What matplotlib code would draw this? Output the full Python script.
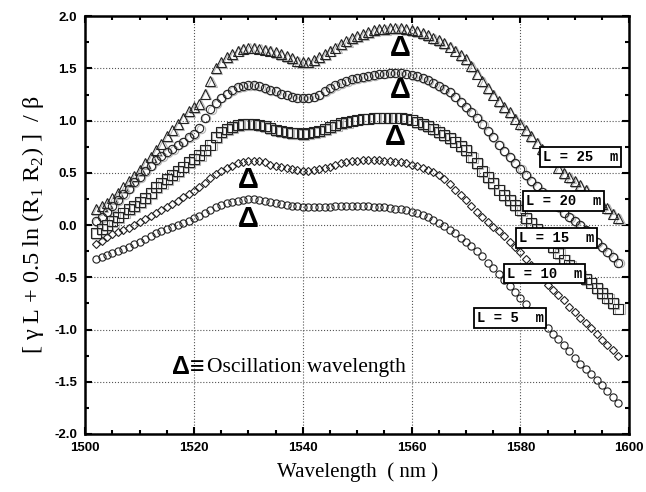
import matplotlib
matplotlib.use("Agg")
import matplotlib.pyplot as plt
from matplotlib.ticker import MultipleLocator, FormatStrFormatter
from matplotlib.transforms import ScaledTranslation

# wavelength grid of the simulated points (nm)
wavelength = list(range(1502, 1599))

# [gamma L + 0.5 ln(R1 R2)] / beta for each fibre length
L25 = [0.15, 0.18, 0.21, 0.26, 0.31, 0.36, 0.42, 0.47, 0.53, 0.59,
       0.65, 0.72, 0.78, 0.85, 0.91, 0.97, 1.03, 1.09, 1.13, 1.16,
       1.26, 1.38, 1.50, 1.56, 1.61, 1.64, 1.67, 1.69, 1.70, 1.70,
       1.69, 1.68, 1.67, 1.66, 1.64, 1.62, 1.60, 1.57, 1.56, 1.56,
       1.58, 1.61, 1.64, 1.67, 1.70, 1.73, 1.76, 1.79, 1.81, 1.83,
       1.85, 1.87, 1.88, 1.88, 1.89, 1.89, 1.89, 1.88, 1.87, 1.86,
       1.84, 1.82, 1.79, 1.77, 1.74, 1.71, 1.67, 1.63, 1.59, 1.52,
       1.45, 1.38, 1.31, 1.25, 1.19, 1.13, 1.08, 1.02, 0.97, 0.91,
       0.85, 0.79, 0.73, 0.67, 0.61, 0.55, 0.50, 0.46, 0.42, 0.38,
       0.34, 0.29, 0.25, 0.20, 0.16, 0.11, 0.07]
L20 = [0.04, 0.08, 0.13, 0.18, 0.24, 0.30, 0.35, 0.41, 0.46, 0.52,
       0.57, 0.62, 0.66, 0.70, 0.73, 0.77, 0.80, 0.84, 0.87, 0.93,
       1.03, 1.11, 1.17, 1.22, 1.26, 1.29, 1.32, 1.33, 1.34, 1.34,
       1.33, 1.31, 1.29, 1.28, 1.26, 1.25, 1.23, 1.22, 1.22, 1.22,
       1.23, 1.25, 1.28, 1.31, 1.34, 1.36, 1.38, 1.40, 1.41, 1.42,
       1.43, 1.44, 1.45, 1.45, 1.46, 1.46, 1.46, 1.45, 1.44, 1.43,
       1.41, 1.39, 1.36, 1.33, 1.30, 1.27, 1.23, 1.18, 1.13, 1.08,
       1.03, 0.97, 0.90, 0.84, 0.77, 0.71, 0.65, 0.59, 0.54, 0.48,
       0.42, 0.37, 0.32, 0.28, 0.22, 0.17, 0.12, 0.08, 0.04, 0.00,
       -0.05, -0.10, -0.16, -0.21, -0.26, -0.31, -0.36]
L15 = [-0.08, -0.04, 0.00, 0.04, 0.08, 0.12, 0.15, 0.18, 0.22, 0.26,
       0.31, 0.36, 0.40, 0.44, 0.48, 0.52, 0.56, 0.60, 0.63, 0.67,
       0.72, 0.77, 0.84, 0.89, 0.92, 0.94, 0.96, 0.97, 0.97, 0.97,
       0.96, 0.95, 0.93, 0.91, 0.90, 0.89, 0.88, 0.88, 0.87, 0.88,
       0.89, 0.90, 0.92, 0.94, 0.96, 0.98, 0.99, 1.00, 1.01, 1.02,
       1.02, 1.03, 1.03, 1.03, 1.03, 1.03, 1.03, 1.02, 1.01, 0.99,
       0.97, 0.95, 0.92, 0.89, 0.86, 0.83, 0.80, 0.76, 0.72, 0.65,
       0.59, 0.52, 0.46, 0.40, 0.34, 0.29, 0.24, 0.19, 0.14, 0.07,
       0.02, -0.04, -0.09, -0.15, -0.21, -0.27, -0.33, -0.38, -0.43, -0.48,
       -0.52, -0.55, -0.60, -0.65, -0.70, -0.75, -0.80]
L10 = [-0.18, -0.15, -0.11, -0.09, -0.07, -0.05, -0.03, 0.00, 0.03, 0.06,
       0.09, 0.12, 0.14, 0.17, 0.20, 0.23, 0.27, 0.30, 0.33, 0.36,
       0.40, 0.45, 0.49, 0.52, 0.55, 0.57, 0.59, 0.60, 0.61, 0.61,
       0.61, 0.60, 0.58, 0.57, 0.56, 0.55, 0.54, 0.53, 0.52, 0.52,
       0.53, 0.54, 0.55, 0.56, 0.58, 0.59, 0.60, 0.61, 0.61, 0.62,
       0.62, 0.62, 0.62, 0.61, 0.61, 0.60, 0.60, 0.59, 0.58, 0.57,
       0.55, 0.53, 0.51, 0.48, 0.44, 0.39, 0.34, 0.29, 0.24, 0.18,
       0.13, 0.08, 0.03, -0.02, -0.06, -0.10, -0.16, -0.21, -0.26, -0.32,
       -0.38, -0.44, -0.50, -0.57, -0.62, -0.67, -0.72, -0.78, -0.83, -0.89,
       -0.94, -0.99, -1.04, -1.10, -1.15, -1.20, -1.25]
L5 = [-0.32, -0.31, -0.29, -0.27, -0.25, -0.23, -0.21, -0.18, -0.16, -0.13,
      -0.10, -0.08, -0.06, -0.04, -0.02, 0.00, 0.02, 0.04, 0.07, 0.09,
      0.12, 0.14, 0.17, 0.19, 0.21, 0.22, 0.23, 0.24, 0.25, 0.25,
      0.24, 0.23, 0.22, 0.21, 0.20, 0.19, 0.18, 0.18, 0.17, 0.17,
      0.17, 0.17, 0.17, 0.17, 0.18, 0.18, 0.18, 0.18, 0.18, 0.18,
      0.18, 0.17, 0.17, 0.17, 0.16, 0.15, 0.15, 0.14, 0.13, 0.12,
      0.10, 0.08, 0.05, 0.02, -0.01, -0.05, -0.08, -0.12, -0.16, -0.20,
      -0.25, -0.30, -0.36, -0.41, -0.47, -0.53, -0.58, -0.64, -0.70, -0.76,
      -0.82, -0.88, -0.94, -0.99, -1.04, -1.09, -1.15, -1.21, -1.27, -1.33,
      -1.38, -1.43, -1.48, -1.53, -1.59, -1.65, -1.70]

labels = ["L = 25  m", "L = 20  m", "L = 15  m", "L = 10  m", "L = 5  m"]
label_pos = [(1591, 0.65), (1588, 0.23), (1586.7, -0.125), (1584.5, -0.465), (1578.1, -0.89)]
# oscillation wavelengths (delta marks)
osc_x = [1558, 1558, 1557, 1530, 1530]
osc_y = [1.70, 1.29, 0.84, 0.43, 0.06]

plt.rcParams['font.family'] = ['Liberation Serif', 'DejaVu Serif']
plt.rcParams['mathtext.fontset'] = 'custom'
plt.rcParams['mathtext.rm'] = 'Liberation Serif'

fig = plt.figure(figsize=(6.46, 4.92), dpi=100)
ax = fig.add_axes([0.132, 0.118, 0.842, 0.849])

# grey shadow copy drawn a little offset, as in the scanned figure
shadow = ax.transData + ScaledTranslation(1.2 / 100, -0.8 / 100, fig.dpi_scale_trans)

series = [(L25, '^', 7, True), (L20, 'o', 6, True), (L15, 's', 6.5, True),
          (L10, 'D', 3.6, False), (L5, 'o', 5.2, False)]
for vals, mk, ms, ghost in series:
    if ghost:
        ax.plot(wavelength, vals, linestyle='none', marker=mk, ms=ms,
                mfc='none', mec='#b4b4b4', mew=0.8, transform=shadow)
    ax.plot(wavelength, vals, linestyle='none', marker=mk, ms=ms,
            mfc='none', mec='#222222', mew=0.8)

for (x, y), txt in zip(label_pos, labels):
    ax.text(x, y, txt, ha='center', va='center', fontsize=10, fontweight='bold',
            family=['Liberation Mono', 'DejaVu Sans Mono'],
            bbox=dict(boxstyle='square,pad=0.2', fc='white', ec='black', lw=1.3))

for x, y in zip(osc_x, osc_y):
    ax.text(x, y, 'Δ', ha='center', va='center', fontsize=21, fontweight='bold',
            family=['Liberation Sans', 'DejaVu Sans'])

ax.text(1519.0, -1.36, 'Δ≡', ha='center', va='center', fontsize=18, fontweight='bold',
        family=['Liberation Sans', 'DejaVu Sans'])
ax.text(1522.3, -1.36, 'Oscillation wavelength', ha='left', va='center', fontsize=15.5)

ax.set_xlim(1500, 1600)
ax.set_ylim(-2.0, 2.0)
ax.xaxis.set_major_locator(MultipleLocator(20))
ax.xaxis.set_minor_locator(MultipleLocator(5))
ax.yaxis.set_major_locator(MultipleLocator(0.5))
ax.yaxis.set_minor_locator(MultipleLocator(0.25))
ax.yaxis.set_major_formatter(FormatStrFormatter('%.1f'))
ax.tick_params(which='both', direction='in', top=True, right=True, width=1.5)
ax.tick_params(which='major', length=5, labelsize=9.5, pad=6)
ax.tick_params(which='minor', length=3)
for lab in ax.get_xticklabels() + ax.get_yticklabels():
    lab.set_family(['Liberation Sans', 'DejaVu Sans'])
    lab.set_fontweight('bold')
for sp in ax.spines.values():
    sp.set_linewidth(1.8)
ax.grid(True, which='major', linestyle=':', color='#555555', linewidth=0.8)

ax.set_xlabel('Wavelength  ( nm )', fontsize=15, labelpad=6)
ax.set_ylabel(r'[ γ L + 0.5 ln (R$_\mathregular{1}$ R$_\mathregular{2}$) ]  / β', fontsize=17.5, labelpad=6)

fig.savefig('out.png', dpi=100)
